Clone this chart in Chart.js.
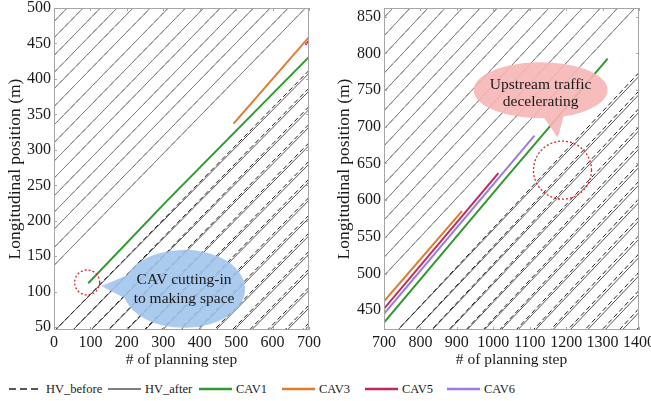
<!DOCTYPE html>
<html>
<head>
<meta charset="utf-8">
<script src="https://cdn.jsdelivr.net/npm/chart.js@4.4.1/dist/chart.umd.min.js"></script>
<style>
  html, body { margin: 0; padding: 0; background: #fff; width: 651px; height: 401px; overflow: hidden; }
  #left { position: absolute; left: 0; top: 0; }
  #right { position: absolute; left: 325px; top: 0; }
  #legend { position: absolute; left: 0; top: 378px; width: 651px; height: 22px;
            font-family: 'Liberation Serif', serif; font-size: 12.5px; color: #1a1a1a; }
  .item { position: absolute; top: 0; height: 22px; display: flex; align-items: center; white-space: nowrap; }
  .item svg { margin-right: 4px; }
</style>
</head>
<body>
<canvas id="left" width="325" height="374"></canvas>
<canvas id="right" width="326" height="374"></canvas>
<div id="legend"></div>
<script>
// ---- data ----
const leftSteps = [0, 700];
const rightSteps = [700, 1400];

// HVs ahead of the CAVs: before == after. [position at first step, position at last step]
const hvAheadL = [[481, 849], [458, 826], [433, 801], [409, 777], [386, 754], [361, 729], [335, 703], [310, 678],
                  [284, 652], [260, 628], [235, 603], [212, 580], [188, 556], [162, 530], [137, 505]];
// HVs behind the CAVs
const hvBehindBeforeL = [[44, 412], [19, 387], [-7, 361], [-32, 336], [-58, 310], [-84, 284], [-109, 259], [-135, 233],
                         [-160, 208], [-185, 183], [-211, 157], [-236, 132], [-262, 106], [-287, 81], [-312, 56]];
const hvBehindAfterL = [[44, 408], [19, 383], [-7, 357], [-32, 332], [-58, 306], [-84, 280], [-109, 255], [-135, 229],
                        [-160, 204], [-185, 179], [-211, 153], [-236, 128], [-262, 102], [-287, 77], [-312, 52]];

const hvAheadR = [[849, 1220], [824, 1195], [798, 1169], [773, 1144], [748, 1119], [722, 1093], [697, 1068], [674, 1045],
                  [649, 1020], [622, 993], [598, 969], [573, 944], [547, 918], [522, 893], [497, 868]];
const hvBehindBeforeR = [[403, 774], [378, 749], [354, 725], [329, 700], [304, 675], [279, 650], [255, 626], [231, 602],
                         [206, 577], [181, 552], [156, 527], [131, 502], [106, 477], [81, 452], [56, 427]];
const hvBehindAfterR = [[403, 769], [378, 744], [354, 720], [329, 695], [304, 670], [279, 645], [255, 621], [231, 597],
                        [206, 572], [181, 547], [156, 522], [131, 497], [106, 472], [81, 447], [56, 422]];

// CAV trajectories
const cav1StepsL = [94, 310, 700],  cav1PosL = [112, 228, 431];
const cav3StepsL = [493, 700],      cav3PosL = [337, 459];
const cav5StepsL = [690, 700],      cav5PosL = [448, 454];
const cav1StepsR = [700, 1029, 1314], cav1PosR = [433, 627, 793];
const cav3StepsR = [700, 914],      cav3PosR = [462, 585];
const cav5StepsR = [700, 1014],     cav5PosR = [452, 637];
const cav6StepsR = [700, 1113],     cav6PosR = [445, 688];

const xTicksL = [0, 100, 200, 300, 400, 500, 600, 700];
const yTicksL = [50, 100, 150, 200, 250, 300, 350, 400, 450, 500];
const xTicksR = [700, 800, 900, 1000, 1100, 1200, 1300, 1400];
const yTicksR = [450, 500, 550, 600, 650, 700, 750, 800, 850];

// ---- styles ----
const SERIF = "'Liberation Serif', 'Times New Roman', serif";
const colors = { before: '#202020', after: '#555555', ahead: '#808080',
                 CAV1: '#2f9a2f', CAV3: '#e07b2e', CAV5: '#c0285a', CAV6: '#9b7be2' };

function hvSets(steps, pairs, label, color, dash, order) {
  return pairs.map(p => ({
    label, order,
    data: [{ x: steps[0], y: p[0] }, { x: steps[1], y: p[1] }],
    borderColor: color, borderWidth: 1, borderDash: dash
  }));
}
function cavSet(label, steps, pos) {
  return {
    label, order: 0,
    data: steps.map((s, i) => ({ x: s, y: pos[i] })),
    borderColor: colors[label], borderWidth: 2
  };
}

// frame, inward ticks, callouts and dotted circles
const decor = {
  id: 'decor',
  afterDatasetsDraw(chart, args, o) {
    const { ctx, scales: { x, y } } = chart;
    const c = o.callout;
    const cx = x.getPixelForValue(c.at[0]), cy = y.getPixelForValue(c.at[1]);
    const tx = x.getPixelForValue(c.tip[0]), ty = y.getPixelForValue(c.tip[1]);
    const a0 = c.base[0] * Math.PI / 180, a1 = c.base[1] * Math.PI / 180 + Math.PI * 2;
    ctx.save();
    ctx.beginPath();
    ctx.ellipse(cx, cy, c.rx, c.ry, 0, a0, a1);
    ctx.lineTo(tx, ty);
    ctx.closePath();
    ctx.fillStyle = c.fill;
    ctx.fill();
    ctx.fillStyle = '#1a1a1a';
    ctx.font = '15.5px ' + SERIF;
    ctx.textAlign = 'center';
    ctx.textBaseline = 'middle';
    c.text.forEach((t, i) => ctx.fillText(t, cx, cy + c.textDy[i]));
    // dotted red circle
    const r = o.circle;
    ctx.beginPath();
    ctx.arc(x.getPixelForValue(r.at[0]), y.getPixelForValue(r.at[1]), r.r, 0, Math.PI * 2);
    ctx.setLineDash([2, 2]);
    ctx.strokeStyle = '#e02424';
    ctx.lineWidth = 1.3;
    ctx.stroke();
    ctx.restore();
  },
  afterDraw(chart) {
    const { ctx, chartArea: a, scales: { x, y } } = chart;
    ctx.save();
    ctx.strokeStyle = '#a6a6a6';
    ctx.lineWidth = 1;
    ctx.strokeRect(a.left + 0.5, a.top + 0.5, a.right - a.left - 1, a.bottom - a.top - 1);
    ctx.beginPath();
    x.ticks.forEach(t => {
      const px = Math.round(x.getPixelForValue(t.value)) + 0.5;
      ctx.moveTo(px, a.bottom); ctx.lineTo(px, a.bottom - 3);
      ctx.moveTo(px, a.top); ctx.lineTo(px, a.top + 3);
    });
    y.ticks.forEach(t => {
      const py = Math.round(y.getPixelForValue(t.value)) + 0.5;
      ctx.moveTo(a.left, py); ctx.lineTo(a.left + 3, py);
      ctx.moveTo(a.right, py); ctx.lineTo(a.right - 3, py);
    });
    ctx.stroke();
    ctx.restore();
  }
};

function makeChart(id, cfg) {
  const font = { family: SERIF, size: 16 };
  const xTitleFont = { family: SERIF, size: 15.5 };
  const yTitleFont = { family: SERIF, size: 17.5 };
  return new Chart(document.getElementById(id), {
    type: 'line',
    data: { datasets: cfg.datasets },
    options: {
      responsive: false,
      animation: false,
      layout: { padding: { left: 0, right: cfg.padRight, top: 8, bottom: 2 } },
      elements: { point: { radius: 0 }, line: { tension: 0, fill: false } },
      plugins: { legend: { display: false }, tooltip: { enabled: false }, decor: cfg.decor },
      scales: {
        x: {
          type: 'linear', min: cfg.xRange[0], max: cfg.xRange[1],
          grid: { display: false, drawTicks: false }, border: { display: false },
          ticks: { font, color: '#1a1a1a', padding: 3, maxRotation: 0, autoSkip: false, callback: v => String(v) },
          afterBuildTicks: s => { s.ticks = cfg.xTicks.map(v => ({ value: v })); },
          afterFit: s => { s.height = 42; s.paddingLeft = 0; s.paddingRight = 0; },
          title: { display: true, text: '# of planning step', font: xTitleFont, color: '#1a1a1a',
                   padding: { top: 0, bottom: 3 } }
        },
        y: {
          type: 'linear', min: cfg.yRange[0], max: cfg.yRange[1],
          grid: { display: false, drawTicks: false }, border: { display: false },
          ticks: { font, color: '#1a1a1a', padding: 3, autoSkip: false, callback: v => String(v) },
          afterBuildTicks: s => { s.ticks = cfg.yTicks.map(v => ({ value: v })); },
          afterFit: s => { s.width = cfg.yWidth; s.paddingTop = 0; s.paddingBottom = 0; },
          title: { display: true, text: 'Longitudinal position (m)', font: yTitleFont,
                   color: '#1a1a1a', padding: { top: cfg.titlePad, bottom: 0 } }
        }
      }
    },
    plugins: [decor]
  });
}

makeChart('left', {
  xRange: [0, 700], yRange: [46, 500], xTicks: xTicksL, yTicks: yTicksL,
  yWidth: 54, padRight: 16, titlePad: 4.5,
  datasets: [
    cavSet('CAV1', cav1StepsL, cav1PosL),
    cavSet('CAV3', cav3StepsL, cav3PosL),
    cavSet('CAV5', cav5StepsL, cav5PosL),
    ...hvSets(leftSteps, hvBehindBeforeL, 'HV_before', colors.before, [5, 3], 1),
    ...hvSets(leftSteps, hvAheadL, 'HV_before', colors.ahead, [5, 3], 1),
    ...hvSets(leftSteps, hvBehindAfterL, 'HV_after', colors.after, [], 2),
    ...hvSets(leftSteps, hvAheadL, 'HV_after', colors.ahead, [], 2)
  ],
  decor: {
    callout: { at: [357, 104], rx: 61, ry: 39, tip: [130, 108], base: [200, 166],
               fill: 'rgba(158,196,236,0.88)', text: ['CAV cutting-in', 'to making space'], textDy: [-9, 10] },
    circle: { at: [91, 113], r: 12.5 }
  }
});

makeChart('right', {
  xRange: [700, 1400], yRange: [423, 862], xTicks: xTicksR, yTicks: yTicksR,
  yWidth: 59, padRight: 12, titlePad: 8.5,
  datasets: [
    cavSet('CAV1', cav1StepsR, cav1PosR),
    cavSet('CAV3', cav3StepsR, cav3PosR),
    cavSet('CAV5', cav5StepsR, cav5PosR),
    cavSet('CAV6', cav6StepsR, cav6PosR),
    ...hvSets(rightSteps, hvBehindBeforeR, 'HV_before', colors.before, [5, 3], 1),
    ...hvSets(rightSteps, hvAheadR, 'HV_before', colors.ahead, [5, 3], 1),
    ...hvSets(rightSteps, hvBehindAfterR, 'HV_after', colors.after, [], 2),
    ...hvSets(rightSteps, hvAheadR, 'HV_after', colors.ahead, [], 2)
  ],
  decor: {
    callout: { at: [1130, 750], rx: 67, ry: 28, tip: [1177, 685], base: [87, 70],
               fill: 'rgba(246,182,182,0.9)', text: ['Upstream traffic', 'decelerating'], textDy: [-5, 12] },
    circle: { at: [1190, 641], r: 29 }
  }
});

// shared legend
const legendLabels = ['HV_before', 'HV_after', 'CAV1', 'CAV3', 'CAV5', 'CAV6'];
const legendStyle = {
  HV_before: { color: colors.before, dash: '7,4', w: 1.5 }, HV_after: { color: colors.after, dash: '', w: 1.5 },
  CAV1: { color: colors.CAV1, dash: '', w: 2.5 }, CAV3: { color: colors.CAV3, dash: '', w: 2.5 },
  CAV5: { color: colors.CAV5, dash: '', w: 2.5 }, CAV6: { color: colors.CAV6, dash: '', w: 2.5 }
};
const legendX = [9, 108, 199, 282, 365, 447];
const legend = document.getElementById('legend');
legendLabels.forEach((name, i) => {
  const s = legendStyle[name];
  const item = document.createElement('div');
  item.className = 'item';
  item.style.left = legendX[i] + 'px';
  item.innerHTML = `<svg width="33" height="10"><line x1="0" y1="5" x2="33" y2="5" stroke="${s.color}"
    stroke-width="${s.w}" stroke-dasharray="${s.dash}"/></svg><span>${name}</span>`;
  legend.appendChild(item);
});
</script>
</body>
</html>
